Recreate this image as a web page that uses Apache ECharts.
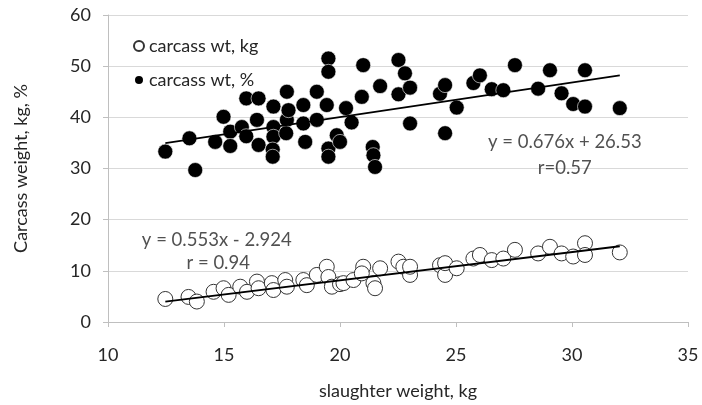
<!DOCTYPE html>
<html><head><meta charset="utf-8">
<script src="https://cdn.jsdelivr.net/npm/echarts@6/dist/echarts.min.js"></script>
<style>html,body{margin:0;padding:0;background:#fff}#c{width:702px;height:405px}</style>
</head><body><div id="c"></div>
<script>
// carcass wt, kg (open circles)
const kgX = [12.47,13.47,13.83,14.55,14.98,15.2,15.7,15.99,16.42,16.49,17.06,17.13,17.64,17.71,18.42,18.57,19.0,19.43,19.5,19.65,20.0,20.15,20.58,21.0,20.94,21.44,21.51,21.73,22.52,22.73,23.02,23.02,24.31,24.53,24.53,25.03,25.75,26.03,26.54,27.04,27.54,28.54,29.05,29.55,30.05,30.56,30.56,32.06];
const kgY = [4.5,4.9,4.0,5.9,6.6,5.3,6.9,5.9,7.9,6.6,7.6,6.25,8.2,6.9,8.2,7.2,9.2,10.8,8.8,6.9,7.4,7.6,8.2,10.8,9.5,7.6,6.6,10.5,11.8,10.8,9.2,10.8,11.1,9.2,11.5,10.5,12.4,13.1,12.1,12.4,14.1,13.4,14.7,13.4,12.8,15.4,13.1,13.6];
// carcass wt, % (filled circles)
const pctX = [12.47,13.51,13.76,14.62,14.98,15.27,15.27,15.77,15.96,15.96,16.49,16.42,16.49,17.13,17.13,17.13,17.1,17.1,17.71,17.71,17.68,17.78,18.42,18.42,18.5,19.0,19.0,19.43,19.5,19.5,19.5,19.5,19.86,20.0,20.26,20.5,20.94,21.0,21.41,21.44,21.51,21.73,22.52,22.8,22.52,23.02,23.02,24.31,24.53,24.53,25.03,25.75,26.03,26.54,27.04,27.54,28.54,29.05,29.55,30.05,30.56,30.56,32.06];
const pctY = [33.3,35.9,29.7,35.2,40.1,37.2,34.4,38.1,43.7,36.3,43.7,39.5,34.6,42.1,38.1,36.2,33.7,32.3,45.0,39.5,36.9,41.4,42.4,38.8,35.2,45.0,39.5,42.4,51.5,48.9,33.9,32.3,36.5,35.2,41.8,39.0,44.0,50.2,34.2,32.6,30.3,46.1,51.2,48.6,44.5,45.8,38.8,44.6,46.3,36.9,41.9,46.7,48.2,45.5,45.3,50.2,45.6,49.2,44.7,42.6,49.2,42.1,41.8];
// trendline coefficients
const kgFit = {slope: 0.553, intercept: -2.924};
const pctFit = {slope: 0.676, intercept: 26.53};
const xTicks = [10, 15, 20, 25, 30, 35];
const yTicks = [0, 10, 20, 30, 40, 50, 60];
const seriesNames = ['carcass wt, kg', 'carcass wt, %'];
const eqPct = ['y = 0.676x + 26.53', 'r=0.57'];
const eqKg = ['y = 0.553x - 2.924', 'r = 0.94'];

const zip = (a, b) => a.map((v, i) => [v, b[i]]);
function fitLine(xs, f) {
  const lo = Math.min(...xs), hi = Math.max(...xs);
  return [[lo, f.slope * lo + f.intercept], [hi, f.slope * hi + f.intercept]];
}
const FONT = 'Lato';
const FS = 18;
const TXT = '#262626';
const chart = echarts.init(document.getElementById('c'), null, {renderer: 'canvas'});
const textSeries = (pts, texts) => ({
  type: 'scatter', silent: true, symbolSize: 0, z: 10,
  data: pts.map((p, i) => ({value: p, label: {show: true, formatter: texts[i], position: 'inside',
    fontFamily: FONT, fontSize: 18.5, color: TXT}}))
});
chart.setOption({
  animation: false,
  textStyle: {fontFamily: FONT},
  grid: {left: 108, right: 14, top: 15, bottom: 83, containLabel: false},
  legend: {
    left: 128, top: 31, orient: 'vertical', itemGap: 14, itemWidth: 10, itemHeight: 10,
    data: [{name: seriesNames[0], icon: 'circle'}, {name: seriesNames[1], icon: 'circle'}],
    textStyle: {fontFamily: FONT, fontSize: FS, color: TXT, lineHeight: 20, padding: [0, 0, 0, 0]}
  },
  xAxis: {
    type: 'value', min: xTicks[0], max: xTicks[xTicks.length - 1], interval: 5,
    name: 'slaughter weight, kg', nameLocation: 'middle', nameGap: 60,
    nameTextStyle: {fontFamily: FONT, fontSize: FS, color: TXT},
    axisLine: {show: true, lineStyle: {color: '#bfbfbf', width: 1}},
    axisTick: {show: true, length: 5, lineStyle: {color: '#bfbfbf'}},
    axisLabel: {fontFamily: FONT, fontSize: FS, color: TXT, margin: 24},
    splitLine: {show: false}
  },
  yAxis: {
    type: 'value', min: yTicks[0], max: yTicks[yTicks.length - 1], interval: 10,
    name: 'Carcass weight, kg, %', nameLocation: 'middle', nameGap: 78, nameRotate: 90,
    nameTextStyle: {fontFamily: FONT, fontSize: FS, color: TXT},
    axisLine: {show: true, lineStyle: {color: '#bfbfbf', width: 1}},
    axisTick: {show: true, length: 5, lineStyle: {color: '#bfbfbf'}},
    axisLabel: {fontFamily: FONT, fontSize: FS, color: TXT, margin: 17},
    splitLine: {show: true, lineStyle: {color: '#d9d9d9', width: 1}}
  },
  series: [
    {name: seriesNames[0], type: 'scatter', symbol: 'circle', symbolSize: 15, z: 3,
     itemStyle: {color: '#ffffff', borderColor: '#333333', borderWidth: 1, opacity: 1},
     data: zip(kgX, kgY)},
    {name: seriesNames[1], type: 'scatter', symbol: 'circle', symbolSize: 15, z: 3,
     itemStyle: {color: '#000000', borderColor: '#ffffff', borderWidth: 0.6, opacity: 1},
     data: zip(pctX, pctY)},
    {type: 'line', silent: true, symbol: 'none', z: 4, lineStyle: {color: '#000', width: 1.8},
     data: fitLine(kgX, kgFit)},
    {type: 'line', silent: true, symbol: 'none', z: 4, lineStyle: {color: '#000', width: 1.8},
     data: fitLine(pctX, pctFit)},
    textSeries([[29.69, 35.18], [29.69, 30.1]], eqPct),
    textSeries([[14.69, 16.0], [14.75, 11.6]], eqKg)
  ]
});
</script></body></html>
